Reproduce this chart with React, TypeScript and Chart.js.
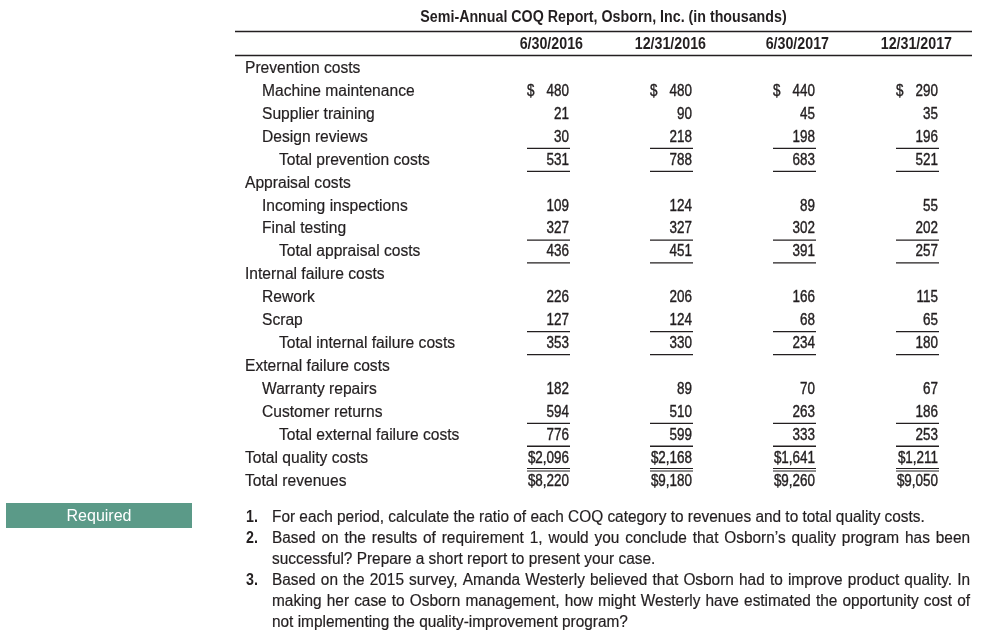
import React, { useEffect, useRef } from "react";
import { Chart, registerables } from "chart.js";
Chart.register(...registerables);

// ---------- data ----------
const title = "Semi-Annual COQ Report, Osborn, Inc. (in thousands)";
const periods = ["6/30/2016", "12/31/2016", "6/30/2017", "12/31/2017"];
const rowLabels = [
  "Prevention costs",
  "Machine maintenance",
  "Supplier training",
  "Design reviews",
  "Total prevention costs",
  "Appraisal costs",
  "Incoming inspections",
  "Final testing",
  "Total appraisal costs",
  "Internal failure costs",
  "Rework",
  "Scrap",
  "Total internal failure costs",
  "External failure costs",
  "Warranty repairs",
  "Customer returns",
  "Total external failure costs",
  "Total quality costs",
  "Total revenues",
];
// kind of each row: section heading, line item, subtotal, grand total
const rowKinds = [
  "section", "item", "item", "item", "subtotal",
  "section", "item", "item", "subtotal",
  "section", "item", "item", "subtotal",
  "section", "item", "item", "subtotal",
  "grand", "grand",
];
const jun2016 = [null, 480, 21, 30, 531, null, 109, 327, 436, null, 226, 127, 353, null, 182, 594, 776, 2096, 8220];
const dec2016 = [null, 480, 90, 218, 788, null, 124, 327, 451, null, 206, 124, 330, null, 89, 510, 599, 2168, 9180];
const jun2017 = [null, 440, 45, 198, 683, null, 89, 302, 391, null, 166, 68, 234, null, 70, 263, 333, 1641, 9260];
const dec2017 = [null, 290, 35, 196, 521, null, 55, 202, 257, null, 115, 65, 180, null, 67, 186, 253, 1211, 9050];
const seriesValues = [jun2016, dec2016, jun2017, dec2017];
const requiredLabel = "Required";
// requirement texts, as printed line by line
const requirement1 = [
  "For each period, calculate the ratio of each COQ category to revenues and to total quality costs.",
];
const requirement2 = [
  "Based on the results of requirement 1, would you conclude that Osborn\u2019s quality program has been",
  "successful? Prepare a short report to present your case.",
];
const requirement3 = [
  "Based on the 2015 survey, Amanda Westerly believed that Osborn had to improve product quality. In",
  "making her case to Osborn management, how might Westerly have estimated the opportunity cost of",
  "not implementing the quality-improvement program?",
];
const requirements = [requirement1, requirement2, requirement3];

// ---------- styling ----------
const INK = "#231f20";
const FAMILY = '"Liberation Sans", Arial, sans-serif';
const REG = "16px " + FAMILY;
const BOLD = "bold 16px " + FAMILY;
const LABEL_SX = 0.975;
const PARA_SX = 0.962;
const NUM_SX = 0.84;
const BOLD_SX = 0.89;

function txt(
  ctx: CanvasRenderingContext2D,
  text: string,
  x: number,
  y: number,
  font: string,
  sx: number,
  align: CanvasTextAlign,
  weight = 0
) {
  ctx.save();
  ctx.font = font;
  ctx.textAlign = align;
  ctx.textBaseline = "middle";
  ctx.translate(x, y);
  ctx.scale(sx, 1);
  ctx.fillText(text, 0, 0);
  if (weight > 0) {
    ctx.strokeStyle = ctx.fillStyle;
    ctx.lineWidth = weight;
    ctx.strokeText(text, 0, 0);
  }
  ctx.restore();
}

function hline(ctx: CanvasRenderingContext2D, x1: number, x2: number, y: number, w: number) {
  ctx.lineWidth = w;
  ctx.beginPath();
  ctx.moveTo(x1, y);
  ctx.lineTo(x2, y);
  ctx.stroke();
}

const tablePlugin = {
  id: "coqTable",
  afterDatasetsDraw(chart: any) {
    const ctx: CanvasRenderingContext2D = chart.ctx;
    const xs = chart.scales.x;
    const ys = chart.scales.y;
    const step = ys.getPixelForValue(1) - ys.getPixelForValue(0);
    const colW = 42;
    ctx.save();
    ctx.fillStyle = INK;
    ctx.strokeStyle = INK;

    const ruleL = 235;
    const ruleR = 972;
    // title
    txt(ctx, title, (ruleL + ruleR) / 2, 17.5, BOLD, BOLD_SX, "center");
    // rules
    hline(ctx, ruleL, ruleR, 31.5, 1.6);
    hline(ctx, ruleL, ruleR, 55.5, 1.6);
    // column headers
    periods.forEach((p, i) => {
      txt(ctx, p, xs.getPixelForValue(i) + 14, 44.5, BOLD, BOLD_SX, "right");
    });

    // row labels
    rowLabels.forEach((lab, i) => {
      const y = ys.getPixelForValue(i);
      const k = rowKinds[i];
      const x = k === "item" ? 262 : k === "subtotal" ? 279 : 245;
      txt(ctx, lab, x, y + 0.5, REG, LABEL_SX, "left", 0.2);
    });

    // values
    chart.data.datasets.forEach((ds: any, di: number) => {
      const meta = chart.getDatasetMeta(di);
      meta.data.forEach((el: any, i: number) => {
        const v = seriesValues[di][i];
        if (v == null) return;
        const x = el.x;
        const y = el.y + 0.5;
        const k = rowKinds[i];
        const s = v.toLocaleString("en-US");
        if (k === "grand") {
          txt(ctx, "$" + s, x, y, REG, NUM_SX, "right", 0.4);
        } else {
          txt(ctx, s, x, y, REG, NUM_SX, "right", 0.4);
          if (i === 1) txt(ctx, "$", x - colW, y, REG, NUM_SX, "left", 0.4);
        }
        ctx.strokeStyle = INK;
        const next = rowKinds[i + 1];
        if (rowLabels[i] === "Total quality costs") {
          hline(ctx, x - colW, x + 1, el.y + 10.8, 1.2);
          hline(ctx, x - colW, x + 1, el.y + 13.3, 1.2);
        } else if (k === "subtotal" || next === "subtotal") {
          hline(ctx, x - colW, x + 1, el.y + step / 2, 1.3);
        }
      });
    });

    // Required box
    ctx.fillStyle = "#5b9a88";
    ctx.fillRect(6, 503, 186, 25);
    ctx.fillStyle = "#ffffff";
    txt(ctx, requiredLabel, 99, 516.5, REG, 1, "center");

    // requirements list
    ctx.fillStyle = INK;
    const textL = 272;
    const textR = 970;
    const lineH = 21;
    let y = 517.5;
    requirements.forEach((lines, ri) => {
      txt(ctx, ri + 1 + ".", 246, y, BOLD, BOLD_SX, "left");
      lines.forEach((line, li) => {
        const last = li === lines.length - 1;
        if (last) {
          txt(ctx, line, textL, y, REG, PARA_SX, "left", 0.2);
        } else {
          ctx.font = REG;
          const words = line.split(" ");
          const widths = words.map((w) => ctx.measureText(w).width * PARA_SX);
          const wsum = widths.reduce((a, b) => a + b, 0);
          const gap = (textR - textL - wsum) / (words.length - 1);
          let x = textL;
          words.forEach((w, wi) => {
            txt(ctx, w, x, y, REG, PARA_SX, "left", 0.2);
            x += widths[wi] + gap;
          });
        }
        y += lineH;
      });
    });
    ctx.restore();
  },
};

export default function App() {
  const ref = useRef<HTMLCanvasElement>(null);
  useEffect(() => {
    const canvas = ref.current!;
    const chart = new Chart(canvas, {
      type: "scatter",
      data: {
        datasets: periods.map((p, di) => ({
          label: p,
          data: seriesValues[di].map((v, i) => ({ x: p, y: rowLabels[i] })) as any,
          pointRadius: 0,
          pointHoverRadius: 0,
          showLine: false,
        })),
      },
      options: {
        responsive: false,
        animation: false,
        events: [],
        layout: { padding: { left: 569, right: 46, top: 68.2, bottom: 639 - 480.6 } },
        plugins: { legend: { display: false }, tooltip: { enabled: false } },
        scales: {
          x: { type: "category", labels: periods, offset: false, display: false },
          y: { type: "category", labels: rowLabels, offset: false, display: false },
        },
      },
      plugins: [tablePlugin],
    });
    return () => chart.destroy();
  }, []);
  return (
    <div style={{ position: "fixed", left: 0, top: 0, width: 984, height: 639, background: "#fff" }}>
      <canvas ref={ref} width={984} height={639} style={{ display: "block" }} />
    </div>
  );
}
